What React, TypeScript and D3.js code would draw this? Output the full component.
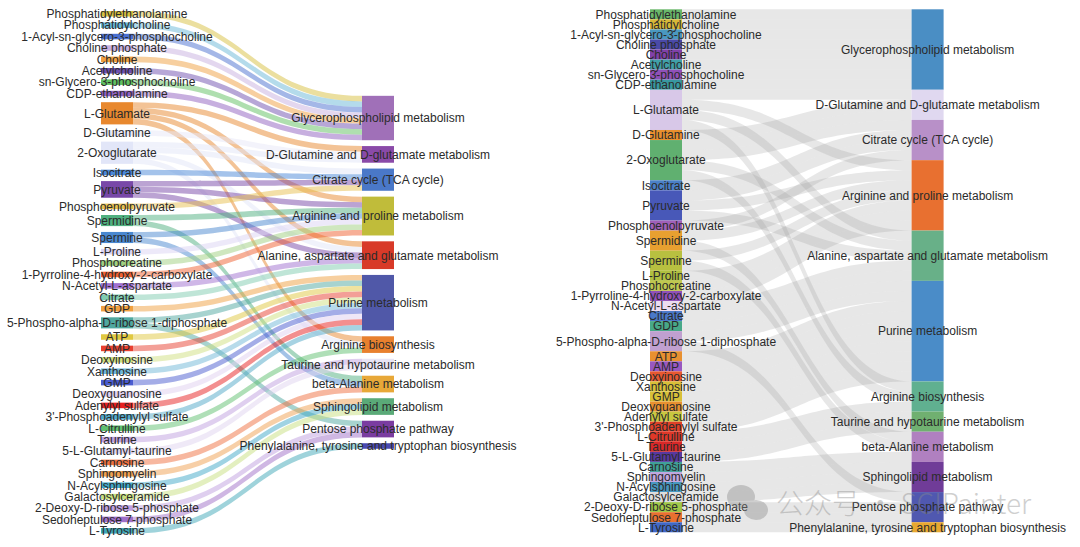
import React from "react";
import * as d3 from "d3";

const W = 1080;
const H = 547;

// ---- data ----
const metabolites = [
  "Phosphatidylethanolamine",
  "Phosphatidylcholine",
  "1-Acyl-sn-glycero-3-phosphocholine",
  "Choline phosphate",
  "Choline",
  "Acetylcholine",
  "sn-Glycero-3-phosphocholine",
  "CDP-ethanolamine",
  "L-Glutamate",
  "D-Glutamine",
  "2-Oxoglutarate",
  "Isocitrate",
  "Pyruvate",
  "Phosphoenolpyruvate",
  "Spermidine",
  "Spermine",
  "L-Proline",
  "Phosphocreatine",
  "1-Pyrroline-4-hydroxy-2-carboxylate",
  "N-Acetyl-L-aspartate",
  "Citrate",
  "GDP",
  "5-Phospho-alpha-D-ribose 1-diphosphate",
  "ATP",
  "AMP",
  "Deoxyinosine",
  "Xanthosine",
  "GMP",
  "Deoxyguanosine",
  "Adenylyl sulfate",
  "3'-Phosphoadenylyl sulfate",
  "L-Citrulline",
  "Taurine",
  "5-L-Glutamyl-taurine",
  "Carnosine",
  "Sphingomyelin",
  "N-Acylsphingosine",
  "Galactosylceramide",
  "2-Deoxy-D-ribose 5-phosphate",
  "Sedoheptulose 7-phosphate",
  "L-Tyrosine",
];

const pathways = [
  "Glycerophospholipid metabolism",
  "D-Glutamine and D-glutamate metabolism",
  "Citrate cycle (TCA cycle)",
  "Arginine and proline metabolism",
  "Alanine, aspartate and glutamate metabolism",
  "Purine metabolism",
  "Arginine biosynthesis",
  "Taurine and hypotaurine metabolism",
  "beta-Alanine metabolism",
  "Sphingolipid metabolism",
  "Pentose phosphate pathway",
  "Phenylalanine, tyrosine and tryptophan biosynthesis",
];

const GP = "Glycerophospholipid metabolism";
const DG = "D-Glutamine and D-glutamate metabolism";
const TCA = "Citrate cycle (TCA cycle)";
const AP = "Arginine and proline metabolism";
const ALA = "Alanine, aspartate and glutamate metabolism";
const PUR = "Purine metabolism";
const ARGB = "Arginine biosynthesis";
const TAU = "Taurine and hypotaurine metabolism";
const BALA = "beta-Alanine metabolism";
const SPH = "Sphingolipid metabolism";
const PPP = "Pentose phosphate pathway";
const PHE = "Phenylalanine, tyrosine and tryptophan biosynthesis";

const linkPairs: [string, string, number][] = [
  ["Phosphatidylethanolamine", GP, 1],
  ["Phosphatidylcholine", GP, 1],
  ["1-Acyl-sn-glycero-3-phosphocholine", GP, 1],
  ["Choline phosphate", GP, 1],
  ["Choline", GP, 1],
  ["Acetylcholine", GP, 1],
  ["sn-Glycero-3-phosphocholine", GP, 1],
  ["CDP-ethanolamine", GP, 1],
  ["L-Glutamate", DG, 1],
  ["L-Glutamate", AP, 1],
  ["L-Glutamate", ALA, 1],
  ["L-Glutamate", ARGB, 1],
  ["D-Glutamine", DG, 1],
  ["2-Oxoglutarate", DG, 1],
  ["2-Oxoglutarate", TCA, 1],
  ["2-Oxoglutarate", ALA, 1],
  ["2-Oxoglutarate", ARGB, 1],
  ["Isocitrate", TCA, 1],
  ["Pyruvate", TCA, 1],
  ["Pyruvate", AP, 1],
  ["Pyruvate", ALA, 1],
  ["Phosphoenolpyruvate", TCA, 1],
  ["Spermidine", AP, 1],
  ["Spermidine", BALA, 1],
  ["Spermine", AP, 1],
  ["Spermine", BALA, 1],
  ["L-Proline", AP, 1],
  ["Phosphocreatine", AP, 1],
  ["1-Pyrroline-4-hydroxy-2-carboxylate", AP, 1],
  ["N-Acetyl-L-aspartate", ALA, 1],
  ["Citrate", ALA, 1],
  ["GDP", PUR, 1],
  ["5-Phospho-alpha-D-ribose 1-diphosphate", PUR, 1],
  ["5-Phospho-alpha-D-ribose 1-diphosphate", PPP, 1],
  ["ATP", PUR, 1],
  ["AMP", PUR, 1],
  ["Deoxyinosine", PUR, 1],
  ["Xanthosine", PUR, 1],
  ["GMP", PUR, 1],
  ["Deoxyguanosine", PUR, 1],
  ["Adenylyl sulfate", PUR, 1],
  ["3'-Phosphoadenylyl sulfate", PUR, 1],
  ["L-Citrulline", ARGB, 1],
  ["Taurine", TAU, 1],
  ["5-L-Glutamyl-taurine", TAU, 1],
  ["Carnosine", BALA, 1],
  ["Sphingomyelin", SPH, 1],
  ["N-Acylsphingosine", SPH, 1],
  ["Galactosylceramide", SPH, 1],
  ["2-Deoxy-D-ribose 5-phosphate", PPP, 1],
  ["Sedoheptulose 7-phosphate", PPP, 1],
  ["L-Tyrosine", PHE, 1],
];

// colours of the left diagram
const leftMetaboliteColors = [
  "#d8c040", "#6ab8d8", "#4a70d0", "#c8b0e0", "#f0a040", "#7050b0", "#60c060", "#9060c0",
  "#e8882e", "#e8e8f8", "#e2e6f8", "#4a88d8", "#7848a8", "#e8c050", "#50b080", "#4a88d0",
  "#dcd4f4", "#a0d080", "#f06030", "#a070d0", "#80ccb0", "#f0a040", "#50a8a0", "#e0c840",
  "#e84030", "#d0e080", "#70b8d8", "#4a5cd0", "#e0d0f0", "#e82020", "#50a8c8", "#60c070",
  "#c0a0e0", "#e0d4f0", "#f07040", "#f0a050", "#40a8c8", "#c8e080", "#c0a0e0", "#a070c8",
  "#40a8b8",
];
const leftPathwayColors = [
  "#a070b8", "#8a4aa8", "#4a78c8", "#c0bc3a", "#d83a28", "#5058a8",
  "#e8802e", "#e8e4f4", "#e8a838", "#5aaa78", "#7a3ca0", "#4a4ab0",
];

// colours of the right diagram
const rightMetaboliteColors = [
  "#6ab86a", "#d8b838", "#4a98c0", "#4a4aa8", "#8040a8", "#40a0a8", "#9050b8", "#3898a0",
  "#d8c8e8", "#e8902e", "#60b070", "#4a80c8", "#4858b8", "#a060b8", "#e8a030", "#b8c040",
  "#b0c040", "#c0c850", "#9050b8", "#ecdcf0", "#4a78c8", "#48a888", "#c0a0d0", "#e89030",
  "#9858c0", "#e85830", "#d8c038", "#d8c038", "#e89030", "#c8c840", "#e04028", "#e03828",
  "#d82828", "#5838a0", "#40a098", "#c0a8e0", "#4898c0", "#dcdcdc", "#a0c848", "#e87030",
  "#4068c8",
];
const rightPathwayColors = [
  "#4a8ec4", "#e0d8f0", "#b890c8", "#e87030", "#68b088", "#4a8cc8",
  "#60b090", "#70b070", "#b080c0", "#703c98", "#5058b0", "#e8a830",
];

type Panel = { x0: number; x1: number; y0: number; y1: number; nodeWidth: number; gap: number };

type SNode = {
  name: string; col: number; index: number; value: number;
  x0: number; x1: number; y0: number; y1: number; out: SLink[]; inn: SLink[];
};
type SLink = { source: SNode; target: SNode; value: number; width: number; sy: number; ty: number };

function computeSankey(panel: Panel) {
  const src: SNode[] = metabolites.map((name, i) => ({ name, col: 0, index: i, value: 0, x0: 0, x1: 0, y0: 0, y1: 0, out: [], inn: [] }));
  const tgt: SNode[] = pathways.map((name, i) => ({ name, col: 1, index: i, value: 0, x0: 0, x1: 0, y0: 0, y1: 0, out: [], inn: [] }));
  const byName = new Map<string, SNode>();
  src.forEach((n) => byName.set("s:" + n.name, n));
  tgt.forEach((n) => byName.set("t:" + n.name, n));
  const links: SLink[] = linkPairs.map(([s, t, v]) => {
    const l: SLink = { source: byName.get("s:" + s)!, target: byName.get("t:" + t)!, value: v, width: 0, sy: 0, ty: 0 };
    l.source.out.push(l);
    l.target.inn.push(l);
    l.source.value += v;
    l.target.value += v;
    return l;
  });
  const columns = [src, tgt];
  const ky = d3.min(columns, (c) => (panel.y1 - panel.y0 - (c.length - 1) * panel.gap) / d3.sum(c, (n) => n.value))!;
  const x = d3.scaleLinear().domain([0, 1]).range([panel.x0, panel.x1 - panel.nodeWidth]);
  const y = d3.scaleLinear().domain([0, 1]).range([0, ky]);
  columns.forEach((c, ci) => {
    const total = y(d3.sum(c, (n) => n.value)) + (c.length - 1) * panel.gap;
    let yy = panel.y0 + (panel.y1 - panel.y0 - total) / 2;
    c.forEach((n) => {
      n.x0 = x(ci);
      n.x1 = n.x0 + panel.nodeWidth;
      n.y0 = yy;
      n.y1 = yy + y(n.value);
      yy = n.y1 + panel.gap;
    });
  });
  links.forEach((l) => (l.width = y(l.value)));
  [...src, ...tgt].forEach((n) => {
    n.out.sort((a, b) => a.target.y0 - b.target.y0);
    n.inn.sort((a, b) => a.source.y0 - b.source.y0);
    let sy = n.y0;
    n.out.forEach((l) => { l.sy = sy; sy += l.width; });
    let ty = n.y0;
    n.inn.forEach((l) => { l.ty = ty; ty += l.width; });
  });
  return { src, tgt, links };
}

function bandPath(l: SLink) {
  const xs = l.source.x1;
  const xt = l.target.x0;
  const xm = (xs + xt) / 2;
  const w = l.width;
  const p = d3.path();
  p.moveTo(xs, l.sy);
  p.bezierCurveTo(xm, l.sy, xm, l.ty, xt, l.ty);
  p.lineTo(xt, l.ty + w);
  p.bezierCurveTo(xm, l.ty + w, xm, l.sy + w, xs, l.sy + w);
  p.closePath();
  return p.toString();
}

const FONT = "'Liberation Sans', Arial, Helvetica, sans-serif";

function Sankey({ panel, srcColors, tgtColors, linkMode }: {
  panel: Panel; srcColors: string[]; tgtColors: string[]; linkMode: "source" | "grey";
}) {
  const { src, tgt, links } = computeSankey(panel);
  const nodes = [...src, ...tgt];
  const colorOf = (n: SNode) => (n.col === 0 ? srcColors[n.index] : tgtColors[n.index]);
  return (
    <g>
      <g>
        {links.map((l, i) => (
          <path
            key={i}
            d={bandPath(l)}
            fill={linkMode === "source" ? colorOf(l.source) : "#9a9a9a"}
            fillOpacity={linkMode === "source" ? 0.5 : 0.24}
          />
        ))}
      </g>
      <g>
        {nodes.map((n, i) => (
          <rect key={i} x={n.x0} y={n.y0} width={n.x1 - n.x0} height={Math.max(0.5, n.y1 - n.y0)} fill={colorOf(n)} />
        ))}
      </g>
      <g fontFamily={FONT} fontSize={12} fill="#2b2b2b" textAnchor="middle">
        {nodes.map((n, i) => (
          <text key={i} x={(n.x0 + n.x1) / 2} y={(n.y0 + n.y1) / 2} dy="0.36em">
            {n.name}
          </text>
        ))}
      </g>
    </g>
  );
}

const leftPanel: Panel = { x0: 101, x1: 394, y0: 11, y1: 533.6, nodeWidth: 32, gap: 5.85 };
const rightPanel: Panel = { x0: 650, x1: 943.6, y0: 9.3, y1: 532.3, nodeWidth: 32, gap: 0 };

export default function App() {
  return (
    <svg
      width={W}
      height={H}
      viewBox={`0 0 ${W} ${H}`}
      style={{ position: "fixed", left: 0, top: 0, background: "#fff", display: "block" }}
    >
      <rect x={0} y={0} width={W} height={H} fill="#fff" />
      <Sankey panel={leftPanel} srcColors={leftMetaboliteColors} tgtColors={leftPathwayColors} linkMode="source" />
      <Sankey panel={rightPanel} srcColors={rightMetaboliteColors} tgtColors={rightPathwayColors} linkMode="grey" />
      <g opacity={0.4} fill="#8a8a8a">
        <ellipse cx={741} cy={497} rx={14} ry={12} />
        <ellipse cx={756} cy={510} rx={12} ry={10} />
        <text x={776} y={514} fontFamily="'Noto Sans CJK SC', sans-serif" fontSize={28} fontWeight={300}>
          公众号 · SCIPainter
        </text>
      </g>
    </svg>
  );
}
